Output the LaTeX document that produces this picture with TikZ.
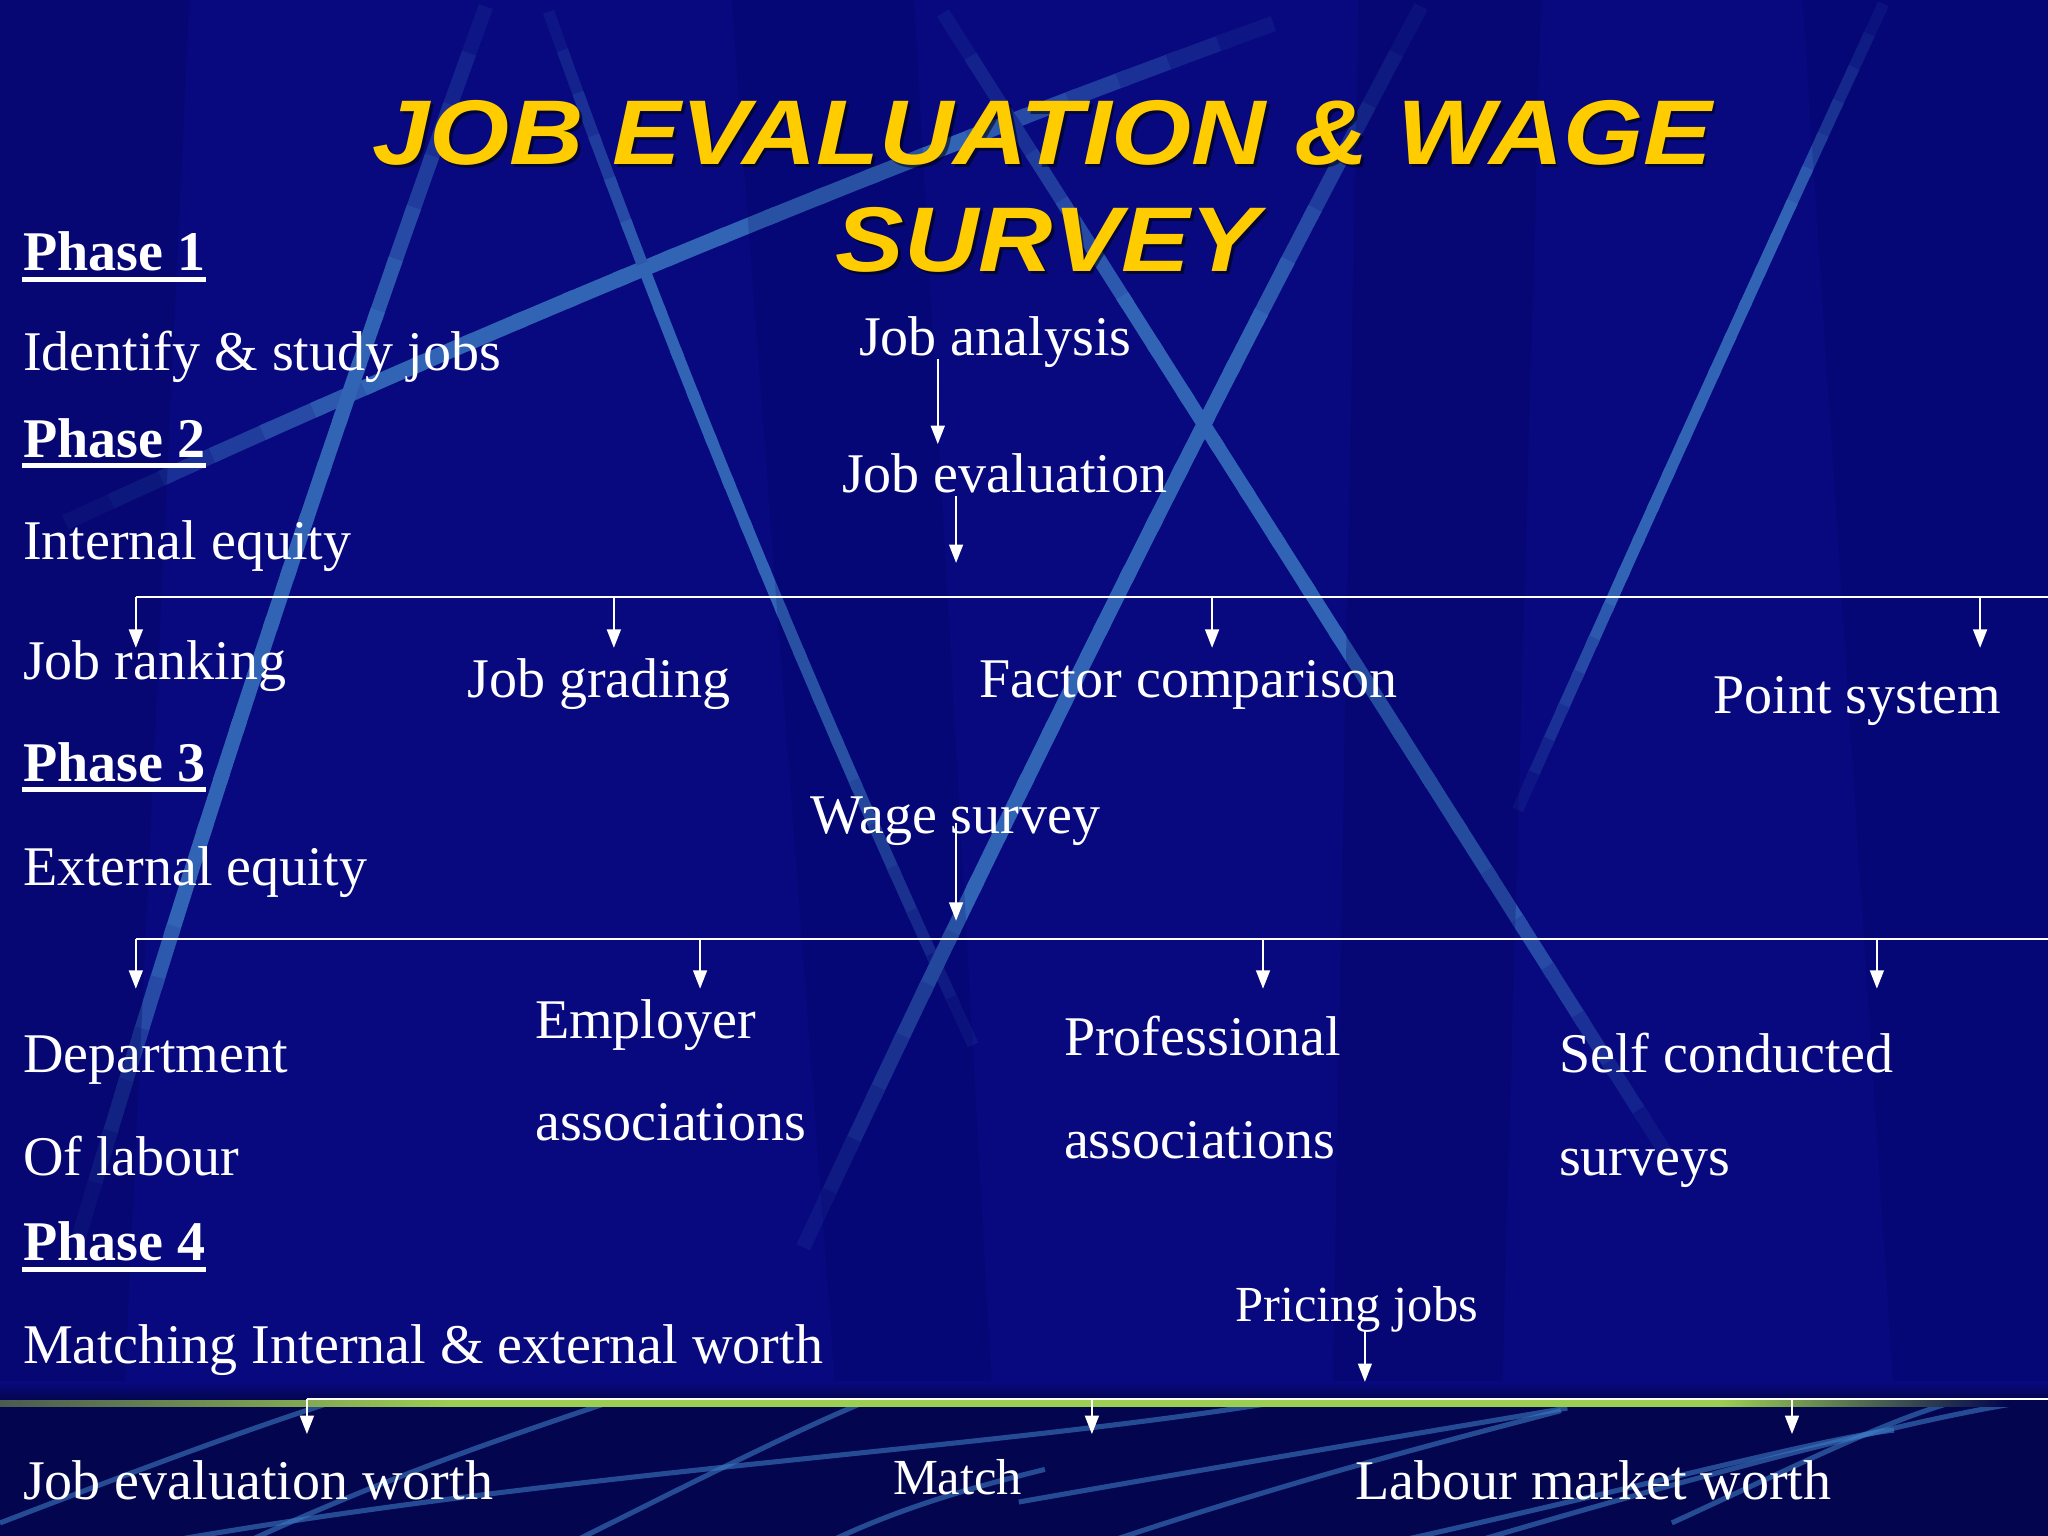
\documentclass[tikz,border=0pt]{standalone}
\usepackage{fontspec}
\setmainfont{Liberation Serif}
\newfontfamily\titlefont{Liberation Sans}[FakeStretch=1.12]
\usetikzlibrary{arrows.meta}
\definecolor{bgnavy}{HTML}{08097E}
\definecolor{bgdark}{HTML}{02035A}
\definecolor{bgbottom}{HTML}{03054E}
\definecolor{streakblue}{HTML}{3C7BC4}
\definecolor{titleyellow}{HTML}{FFCC00}
\definecolor{bandgreen}{HTML}{9BCF52}
\definecolor{bandgray}{HTML}{4A5A52}
\pgfdeclarehorizontalshading{greenband}{100bp}{color(0bp)=(bandgray); color(25bp)=(bandgray); color(36bp)=(bandgreen); color(67bp)=(bandgreen); color(74bp)=(bgbottom); color(100bp)=(bgbottom)}
% quadratic streak: x0,y0, cx,cy, x2,y2, width  (opaque colour mix, overlapping segments)
\newcommand{\bgstreak}[7]{%
  \foreach \i in {0,...,23}{%
    \pgfmathsetmacro{\ta}{max(0,\i/24-0.004)}%
    \pgfmathsetmacro{\tb}{min(1,(\i+1)/24+0.004)}%
    \pgfmathsetmacro{\tm}{(\i+0.5)/24}%
    \pgfmathsetmacro{\op}{round(80*min(1,min(3.5*\tm+0.06,3.5*(1-\tm)+0.06)))}%
    \pgfmathsetmacro{\xa}{(1-\ta)^2*#1+2*\ta*(1-\ta)*#3+\ta^2*#5}%
    \pgfmathsetmacro{\ya}{(1-\ta)^2*#2+2*\ta*(1-\ta)*#4+\ta^2*#6}%
    \pgfmathsetmacro{\xb}{(1-\tb)^2*#1+2*\tb*(1-\tb)*#3+\tb^2*#5}%
    \pgfmathsetmacro{\yb}{(1-\tb)^2*#2+2*\tb*(1-\tb)*#4+\tb^2*#6}%
    \draw[draw=streakblue!\op!bgnavy, line width=#7, line cap=butt]
      (\xa,\ya) -- (\xb,\yb);
  }}
\tikzset{
  lbl/.style={text=white, inner sep=0pt, anchor=base west, font=\fontsize{12.2}{14}\selectfont},
  smalllbl/.style={lbl, font=\fontsize{11}{13}\selectfont},
  phase/.style={lbl, font=\fontsize{12.2}{14}\selectfont\bfseries},
  uline/.style={draw=white, line width=1.1pt},
  bus/.style={draw=white, line width=0.5pt},
  arr/.style={draw=white, line width=0.45pt, -{Triangle[width=3pt,length=4pt]}},
  ttl/.style={inner sep=0pt, anchor=base, font=\titlefont\bfseries\itshape\fontsize{20}{24}\selectfont},
  bcurve/.style={draw=streakblue, line width=1.1pt, opacity=0.6},
}
\begin{document}
\begin{tikzpicture}[x=0.01cm, y=-0.01cm]
\useasboundingbox (0,0) rectangle (1568,1176);
% ---------- background ----------
\fill[bgnavy] (0,0) rectangle (1568,1176);
\bgstreak{50}{400}{515}{185}{975}{18}{3.4pt}
\bgstreak{372}{5}{200}{478}{60}{948}{3.2pt}
\bgstreak{420}{9}{560}{400}{745}{800}{2.5pt}
\bgstreak{1088}{5}{836}{480}{615}{955}{3.2pt}
\bgstreak{722}{10}{1001}{450}{1280}{890}{3pt}
\bgstreak{1442}{3}{1300}{310}{1162}{620}{2.5pt}
\fill[bgdark, opacity=0.3] (0,0) -- (145,0) -- (95,1070) -- (0,1070) -- cycle;
\fill[bgdark, opacity=0.25] (1040,0) -- (1180,0) -- (1150,1070) -- (1020,1070) -- cycle;
\fill[bgdark, opacity=0.2] (560,0) -- (700,0) -- (760,1070) -- (640,1070) -- cycle;
\fill[bgdark, opacity=0.18] (1380,0) -- (1568,0) -- (1568,1070) -- (1450,1070) -- cycle;
% bottom strip
\fill[bgbottom] (0,1072) rectangle (1568,1176);
\shade[top color=bgnavy, bottom color=bgbottom] (0,1058) rectangle (1568,1072);
\begin{scope}
\clip (0,1077) rectangle (1568,1176);
\draw[bcurve] (0,1166) .. controls (120,1120) and (200,1090) .. (290,1062);
\draw[bcurve] (190,1180) .. controls (320,1120) and (420,1090) .. (500,1062);
\draw[bcurve] (140,1178) .. controls (450,1125) and (750,1110) .. (975,1074);
\draw[bcurve] (440,1180) .. controls (560,1120) and (620,1090) .. (680,1066);
\draw[bcurve] (640,1178) .. controls (700,1150) and (760,1135) .. (800,1125);
\draw[bcurve] (780,1150) .. controls (950,1120) and (1100,1095) .. (1200,1078);
\draw[bcurve] (850,1180) .. controls (1000,1130) and (1120,1100) .. (1195,1080);
\draw[bcurve] (1070,1180) .. controls (1250,1140) and (1400,1100) .. (1450,1095);
\draw[bcurve] (1130,1180) .. controls (1300,1130) and (1450,1090) .. (1540,1075);
\draw[bcurve] (1280,1166) .. controls (1380,1120) and (1440,1090) .. (1490,1075);
\end{scope}
\shade[shading=greenband] (0,1072) rectangle (1568,1077);
% ---------- title ----------
\node[ttl, text=black, opacity=0.55] (ttlAs) at (800,128) {JOB EVALUATION \& WAGE};
\node[ttl, text=black, opacity=0.55] (ttlBs) at (804,210) {SURVEY};
\node[ttl, text=titleyellow] (ttlA) at (798,126) {JOB EVALUATION \& WAGE};
\node[ttl, text=titleyellow] (ttlB) at (802,208) {SURVEY};
% ---------- left column ----------
\node[phase] (p1) at (17,207) {Phase 1};
\node[lbl] (t1) at (17,284) {Identify \& study jobs};
\node[phase] (p2) at (17,350) {Phase 2};
\node[lbl] (t2) at (17,428) {Internal equity};
\node[lbl] (jr) at (17,520) {Job ranking};
\node[phase] (p3) at (17,598) {Phase 3};
\node[lbl] (t3) at (17,678) {External equity};
\node[lbl] (dep) at (17,821) {Department};
\node[lbl] (ofl) at (17,900) {Of labour};
\node[phase] (p4) at (17,965) {Phase 4};
\node[lbl] (t4) at (17,1044) {Matching Internal \& external worth};
\node[lbl] (jew) at (17,1148) {Job evaluation worth};
\foreach \p in {p1,p2,p3,p4}{
  \draw[uline] ([yshift=-1.9pt]\p.base west) -- ([yshift=-1.9pt]\p.base east);
}
% ---------- phase 2 ----------
\node[lbl] (ja) at (657,272) {Job analysis};
\node[lbl] (je) at (644,377) {Job evaluation};
\coordinate (a1s) at (718,275);
\coordinate (a1e) at (718,340);
\coordinate (a2s) at (732,380);
\coordinate (a2e) at (732,431);
\draw[arr] (a1s) -- (a1e);
\draw[arr] (a2s) -- (a2e);
\coordinate (b1L) at (104,457);
\coordinate (b1R) at (1568,457);
\draw[bus] (b1L) -- (b1R);
\node[lbl] (jg) at (357,534) {Job grading};
\node[lbl] (fc) at (749,534) {Factor comparison};
\node[lbl] (ps) at (1311,546) {Point system};
\foreach \x/\n in {104/r1,470/r2,928/r3,1516/r4}{
  \coordinate (\n s) at (\x,457);
  \coordinate (\n e) at (\x,496);
  \draw[arr] (\n s) -- (\n e);
}
% ---------- phase 3 ----------
\node[lbl] (ws) at (620,638) {Wage survey};
\coordinate (a3s) at (732,630);
\coordinate (a3e) at (732,705);
\draw[arr] (a3s) -- (a3e);
\coordinate (b2L) at (104,719);
\coordinate (b2R) at (1568,719);
\draw[bus] (b2L) -- (b2R);
\foreach \x/\n in {104/s1,536/s2,967/s3,1437/s4}{
  \coordinate (\n s) at (\x,719);
  \coordinate (\n e) at (\x,757);
  \draw[arr] (\n s) -- (\n e);
}
\node[lbl] (emp) at (409,795) {Employer};
\node[lbl] (asa) at (409,873) {associations};
\node[lbl] (pro) at (814,808) {Professional};
\node[lbl] (asb) at (814,887) {associations};
\node[lbl] (sc) at (1193,821) {Self conducted};
\node[lbl] (sv) at (1193,900) {surveys};
% ---------- phase 4 ----------
\node[smalllbl] (pj) at (945,1012) {Pricing jobs};
\coordinate (a4s) at (1045,1019);
\coordinate (a4e) at (1045,1058);
\draw[arr] (a4s) -- (a4e);
\coordinate (b3L) at (235,1071);
\coordinate (b3R) at (1568,1071);
\draw[bus] (b3L) -- (b3R);
\foreach \x/\n in {235/m1,836/m2,1372/m3}{
  \coordinate (\n s) at (\x,1071);
  \coordinate (\n e) at (\x,1098);
  \draw[arr] (\n s) -- (\n e);
}
\node[smalllbl] (mt) at (683,1144) {Match};
\node[lbl] (lmw) at (1037,1148) {Labour market worth};
\end{tikzpicture}
\end{document}
